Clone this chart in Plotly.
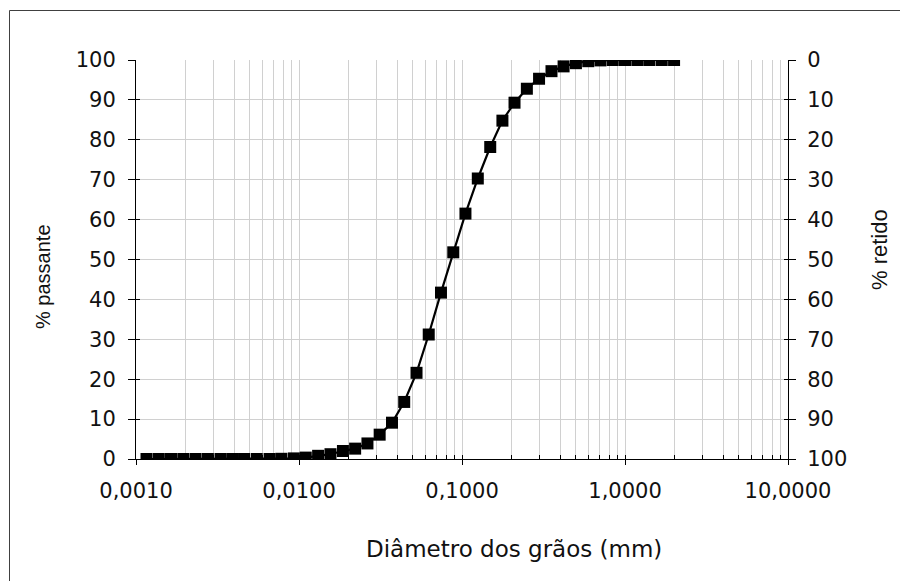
import plotly.graph_objects as go

# ---- data ----
diameter_mm = [0.00116, 0.00138, 0.00164, 0.00195, 0.00232, 0.00276, 0.0033, 0.0039,
               0.0046, 0.0055, 0.0066, 0.0078, 0.0093, 0.011, 0.0131, 0.0156, 0.0186,
               0.0221, 0.0263, 0.03125, 0.0372, 0.0442, 0.0526, 0.0625, 0.0743, 0.0884,
               0.105, 0.125, 0.149, 0.177, 0.21, 0.25, 0.297, 0.354, 0.42, 0.5, 0.595,
               0.707, 0.841, 1.0, 1.19, 1.41, 1.68, 2.0]
passing_pct = [0, 0, 0, 0, 0, 0, 0, 0,
               0, 0, 0, 0.05, 0.15, 0.35, 0.8, 1.2, 2.0,
               2.6, 3.9, 6.1, 9.1, 14.3, 21.6, 31.2, 41.7, 51.8,
               61.5, 70.3, 78.2, 84.8, 89.3, 92.8, 95.3, 97.2, 98.4, 99.2, 99.7,
               99.9, 100, 100, 100, 100, 100, 100]

x_tickvals = [0.001, 0.01, 0.1, 1, 10]
x_ticktext = ["0,0010", "0,0100", "0,1000", "1,0000", "10,0000"]
y_tickvals = [0, 10, 20, 30, 40, 50, 60, 70, 80, 90, 100]
y_ticktext_left = [str(v) for v in y_tickvals]
y_ticktext_right = [str(100 - v) for v in y_tickvals]

x_title = "Diâmetro dos grãos (mm)"
y_title_left = "% passante"
y_title_right = "% retido"

# ---- layout geometry (pixels) ----
W, H = 900, 581
L, R, T, B = 136, 112, 60, 122
PW, PH = W - L - R, H - T - B

def px_x(p):
    return (p - L) / PW

def px_y(p):
    return (H - B - p) / PH

GRID = "#d0d0d0"
FONT_H = "DejaVu Sans"
FONT_V = "Liberation Sans"
TXT = "#111111"

minor_vals = [m * 10 ** e for e in range(-3, 1) for m in range(2, 10)]

fig = go.Figure()
fig.add_trace(go.Scatter(
    x=diameter_mm, y=passing_pct, mode="lines+markers",
    line=dict(color="black", width=2.2),
    marker=dict(symbol="square", size=12, color="black"),
    showlegend=False, hoverinfo="x+y"))

fig.update_layout(
    width=W, height=H,
    margin=dict(l=L, r=R, t=T, b=B, pad=0),
    paper_bgcolor="white", plot_bgcolor="white",
    font=dict(family=FONT_H, size=21, color=TXT),
    showlegend=False,
    xaxis=dict(
        type="log", range=[-3, 1],
        tickvals=x_tickvals, ticktext=x_ticktext,
        ticks="outside", ticklen=5, tickcolor="black", tickwidth=1,
        showline=True, linecolor="black", linewidth=1,
        showgrid=True, gridcolor=GRID, gridwidth=1,
        minor=dict(tickvals=minor_vals, ticks="inside", ticklen=4,
                   tickcolor="black", showgrid=True, gridcolor=GRID, gridwidth=1),
        ticklabelstandoff=8,
        zeroline=False,
    ),
    xaxis2=dict(
        type="log", range=[-3, 1], overlaying="x", side="bottom",
        tickvals=x_tickvals, showticklabels=False,
        ticks="inside", ticklen=4, tickcolor="black",
        showgrid=False, showline=False, zeroline=False,
    ),
    yaxis=dict(
        range=[0, 100], tickvals=y_tickvals, ticktext=y_ticktext_left,
        ticks="outside", ticklen=7, tickcolor="black",
        showline=True, linecolor="black", linewidth=1,
        showgrid=True, gridcolor=GRID, gridwidth=1,
        zeroline=False, ticklabelstandoff=8,
    ),
    yaxis2=dict(
        range=[0, 100], overlaying="y", side="right",
        tickvals=y_tickvals, ticktext=y_ticktext_right,
        ticks="outside", ticklen=7, tickcolor="black",
        showline=True, linecolor="black", linewidth=1,
        showgrid=False, zeroline=False, ticklabelstandoff=7,
    ),
    yaxis3=dict(
        range=[0, 100], overlaying="y", side="left",
        tickvals=y_tickvals, showticklabels=False,
        ticks="inside", ticklen=4, tickcolor="black",
        showgrid=False, showline=False, zeroline=False,
    ),
    yaxis4=dict(
        range=[0, 100], overlaying="y", side="right",
        tickvals=y_tickvals, showticklabels=False,
        ticks="inside", ticklen=4, tickcolor="black",
        showgrid=False, showline=False, zeroline=False,
    ),
)

# invisible anchor traces for the tick-only overlay axes
for ya in ["y2", "y3", "y4"]:
    fig.add_trace(go.Scatter(x=[diameter_mm[0]], y=[passing_pct[0]], xaxis="x2", yaxis=ya,
                             mode="markers", marker=dict(opacity=0),
                             hoverinfo="skip", showlegend=False))

# axis titles
fig.add_annotation(text=x_title, xref="paper", yref="paper", x=px_x(514), y=px_y(549),
                   xanchor="center", yanchor="middle", showarrow=False,
                   font=dict(family=FONT_H, size=23, color=TXT))
fig.add_annotation(text=y_title_left, xref="paper", yref="paper", x=px_x(43), y=px_y(277),
                   xanchor="center", yanchor="middle", showarrow=False, textangle=-90,
                   font=dict(family=FONT_V, size=20, color=TXT))
fig.add_annotation(text=y_title_right, xref="paper", yref="paper", x=px_x(879), y=px_y(250),
                   xanchor="center", yanchor="middle", showarrow=False, textangle=-90,
                   font=dict(family=FONT_V, size=22, color=TXT))

# chart-area frame (cropped on right/bottom in the reference)
fig.add_shape(type="rect", xref="paper", yref="paper",
              x0=px_x(9.5), x1=px_x(910), y0=px_y(600), y1=px_y(10.5),
              line=dict(color="#404040", width=1), fillcolor="rgba(0,0,0,0)", layer="above")

fig.write_html("out.html",
               config={"displayModeBar": False},
               post_script="document.body.style.margin='0';document.body.style.overflow='hidden';")
